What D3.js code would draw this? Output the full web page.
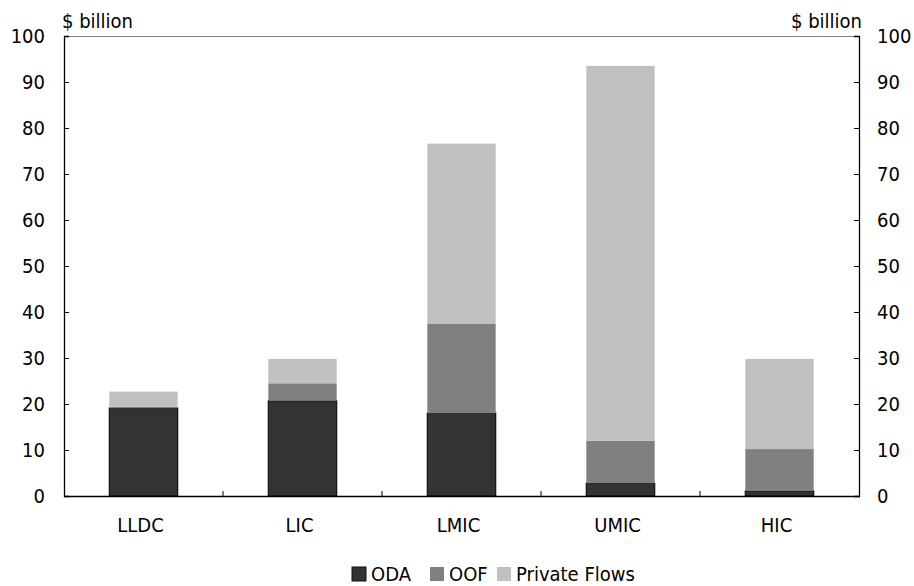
<!DOCTYPE html>
<html><head><meta charset="utf-8">
<script src="https://cdn.jsdelivr.net/npm/d3@7"></script>
<style>body{margin:0;background:#fff}svg{display:block}text{font-family:"DejaVu Sans Condensed","DejaVu Sans",sans-serif;fill:#000}</style>
</head><body><svg id="c" width="914" height="586"></svg>
<script>
const categories = ["LLDC","LIC","LMIC","UMIC","HIC"];
const seriesNames = ["ODA","OOF","Private Flows"];
const oda = [19.1, 20.7, 18.0, 2.8, 1.1];
const oof = [0.3, 3.8, 19.5, 9.2, 9.1];
const priv = [3.3, 5.3, 39.1, 81.5, 19.6];
const yTicks = [0,10,20,30,40,50,60,70,80,90,100];
const colors = ["#333333","#808080","#c0c0c0"];

const svg = d3.select("#c");
const L = 64, R = 859, T = 36, B = 496;
const fs = 20;
const x = d3.scaleBand().domain(categories).range([L, R]).paddingInner(0.57).paddingOuter(0.285);
const y = d3.scaleLinear().domain([0,100]).range([B, T]);

const table = categories.map((c,i)=>({cat:c, ODA:oda[i], OOF:oof[i], "Private Flows":priv[i]}));
const stacked = d3.stack().keys(seriesNames)(table);

svg.append("line").attr("x1",L).attr("x2",R).attr("y1",T+0.5).attr("y2",T+0.5).attr("stroke","#808080").attr("stroke-width",1);

const g = svg.append("g");
stacked.forEach((s,si)=>{
  g.append("g").selectAll("rect").data(s).join("rect")
   .attr("x",d=>x(d.data.cat)).attr("width",x.bandwidth())
   .attr("y",d=>y(d[1])).attr("height",d=>y(d[0])-y(d[1]))
   .attr("fill",colors[si])
   .attr("stroke", si===0 ? "#111" : "none").attr("stroke-width",1.2);
});

const yl = d3.axisLeft(y).tickValues(yTicks).tickSize(-5);
const ga = svg.append("g").attr("transform",`translate(${L},0)`).call(yl);
const yr = d3.axisRight(y).tickValues(yTicks).tickSize(-5);
const gb = svg.append("g").attr("transform",`translate(${R},0)`).call(yr);
[ga,gb].forEach(a=>{
  a.select(".domain").attr("stroke","#000").attr("stroke-width",1.3);
  a.selectAll(".tick line").attr("stroke","#000");
  a.selectAll("text").attr("font-size",fs).attr("font-family",null);
});
ga.selectAll(".tick text").attr("x",-19);
gb.selectAll(".tick text").attr("x",18);

const xa = d3.axisBottom(x).tickSize(0).tickPadding(22);
const gx = svg.append("g").attr("transform",`translate(0,${B})`).call(xa);
gx.select(".domain").attr("stroke","#000").attr("stroke-width",1.3);
gx.selectAll("text").attr("font-size",fs).attr("font-family",null).attr("dx",-3);
const sep = categories.slice(1).map(c=>x(c) - x.step()*x.paddingInner()/2);
svg.append("g").selectAll("line").data(sep).join("line")
  .attr("x1",d=>d).attr("x2",d=>d).attr("y1",B).attr("y2",B-5).attr("stroke","#000");

svg.append("text").attr("x",L-2).attr("y",28).attr("font-size",fs).text("$ billion");
svg.append("text").attr("x",R+3).attr("y",28).attr("text-anchor","end").attr("font-size",fs).text("$ billion");

const leg = svg.append("g");
const legX = [352, 430, 497];
seriesNames.forEach((n,i)=>{
  leg.append("rect").attr("x",legX[i]).attr("y",567).attr("width",14).attr("height",14)
    .attr("fill",colors[i]).attr("stroke", i===0?"#111":"none");
  leg.append("text").attr("x",legX[i]+19).attr("y",581).attr("font-size",fs).text(n);
});
</script></body></html>
